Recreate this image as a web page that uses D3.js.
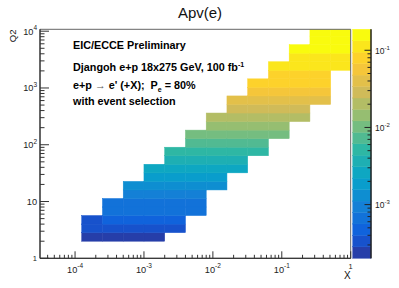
<!DOCTYPE html>
<html><head><meta charset="utf-8">
<script src="https://cdn.jsdelivr.net/npm/d3@7"></script>
<style>
html,body{margin:0;padding:0;background:#fff;}
svg{display:block;font-family:"Liberation Sans",Arial,Helvetica,sans-serif;}
</style></head><body>
<svg id="c" width="399" height="288"></svg>
<script>
// ---------------- data ----------------
const xBinEdges = [1.25e-4, 2.5e-4, 5e-4, 1e-3, 2e-3, 4e-3, 8e-3, 0.016, 0.032, 0.064, 0.128, 0.256, 0.512, 1.024];
const q2BinEdges = [2, 2.83, 4, 5.66, 8, 11.3, 16, 22.6, 32, 45.3, 64, 90.5, 128, 181, 256, 362, 512, 724,
                    1024, 1448, 2048, 2896, 4096, 5793, 8192, 11585];
// first filled Q2 bin of each x column
const firstQ2Bin = [0, 0, 0, 0, 1, 3, 6, 8, 10, 12, 14, 16, 20];
// Apv(e) per x column, from the first filled Q2 bin upward
const apv_x01 = [0.00024, 0.00033, 0.00036];
const apv_x02 = [0.00024, 0.00034, 0.00047, 0.00065, 0.00069];
const apv_x03 = [0.00024, 0.00034, 0.00048, 0.00066, 0.00070, 0.00094, 0.0013];
const apv_x04 = [0.00024, 0.00034, 0.00048, 0.00066, 0.00071, 0.00095, 0.0013, 0.00185, 0.0026];
const apv_x05 = [0.00034, 0.00048, 0.00066, 0.00071, 0.00095, 0.0013, 0.00186, 0.0026, 0.0037, 0.0052];
const apv_x06 = [0.00066, 0.00071, 0.00095, 0.0013, 0.00186, 0.0026, 0.0037, 0.0052, 0.0073, 0.0103];
const apv_x07 = [0.0013, 0.00186, 0.0026, 0.0037, 0.0052, 0.0073, 0.0103, 0.0145, 0.020];
const apv_x08 = [0.0026, 0.0037, 0.0052, 0.0073, 0.0103, 0.0145, 0.020, 0.0285, 0.040];
const apv_x09 = [0.0052, 0.0073, 0.0103, 0.0145, 0.020, 0.0285, 0.040, 0.057, 0.080];
const apv_x10 = [0.0103, 0.0145, 0.020, 0.0285, 0.040, 0.057, 0.080, 0.082, 0.112];
const apv_x11 = [0.020, 0.0285, 0.040, 0.057, 0.080, 0.082, 0.112, 0.114, 0.158];
const apv_x12 = [0.040, 0.057, 0.080, 0.082, 0.112, 0.114, 0.158, 0.160, 0.160];
const apv_x13 = [0.112, 0.114, 0.158, 0.160, 0.160];
const columns = [apv_x01, apv_x02, apv_x03, apv_x04, apv_x05, apv_x06, apv_x07, apv_x08, apv_x09, apv_x10, apv_x11, apv_x12, apv_x13];

const xTickValues = [1e-4, 1e-3, 1e-2, 1e-1, 1];
const xTickLabels = ["10^-4", "10^-3", "10^-2", "10^-1", "1"];
const yTickValues = [1, 10, 100, 1000, 10000];
const yTickLabels = ["1", "10", "10^2", "10^3", "10^4"];
const zTickValues = [1e-3, 1e-2, 1e-1];
const zTickLabels = ["10^-3", "10^-2", "10^-1"];

// kBird palette definition
const birdStops = [0.0000, 0.1250, 0.2500, 0.3750, 0.5000, 0.6250, 0.7500, 0.8750, 1.0000];
const birdR = [0.2082, 0.0592, 0.0780, 0.0232, 0.1802, 0.5301, 0.8186, 0.9956, 0.9764];
const birdG = [0.1664, 0.3599, 0.5041, 0.6419, 0.7178, 0.7492, 0.7328, 0.7862, 0.9832];
const birdB = [0.5293, 0.8684, 0.8385, 0.7914, 0.6425, 0.4662, 0.3499, 0.1968, 0.0539];

// ---------------- layout ----------------
const svg = d3.select("#c");
const fx0 = 40, fx1 = 350.7, fy0 = 29.3, fy1 = 258.3;
const px0 = 352.7, px1 = 371;
const x = d3.scaleLog().domain([3.1e-5, 1]).range([fx0, fx1]);
const y = d3.scaleLog().domain([1, 1.08e4]).range([fy1, fy0]);
const z = d3.scaleLog().domain([2.014e-4, 0.187]).range([fy1, fy0]);
const nCont = 20;
const bird = d3.scaleLinear().domain(birdStops)
  .range(birdStops.map((s, i) => d3.rgb(birdR[i] * 255, birdG[i] * 255, birdB[i] * 255)))
  .interpolate(d3.interpolateRgb);
const lz0 = Math.log10(z.domain()[0]), lz1 = Math.log10(z.domain()[1]);
function band(v) {
  const b = Math.floor((Math.log10(v) - lz0) / (lz1 - lz0) * nCont);
  return Math.max(0, Math.min(nCont - 1, b));
}
function bandColor(b) { return bird((b + 0.99) / nCont); }

// clip
svg.append("defs").append("clipPath").attr("id", "fr")
  .append("rect").attr("x", fx0).attr("y", fy0).attr("width", fx1 - fx0).attr("height", fy1 - fy0);

// cells
const cells = svg.append("g").attr("clip-path", "url(#fr)");
columns.forEach((vals, c) => {
  vals.forEach((v, k) => {
    const r = firstQ2Bin[c] + k;
    const col = bandColor(band(v));
    cells.append("rect")
      .attr("x", x(xBinEdges[c]))
      .attr("width", x(xBinEdges[c + 1]) - x(xBinEdges[c]))
      .attr("y", y(q2BinEdges[r + 1]))
      .attr("height", y(q2BinEdges[r]) - y(q2BinEdges[r + 1]))
      .attr("fill", col).attr("stroke", col).attr("stroke-width", 0.5);
  });
});

// palette
for (let b = 0; b < nCont; b++) {
  const lo = Math.pow(10, lz0 + b * (lz1 - lz0) / nCont);
  const hi = Math.pow(10, lz0 + (b + 1) * (lz1 - lz0) / nCont);
  const col = bandColor(b);
  svg.append("rect").attr("x", px0).attr("width", px1 - px0)
    .attr("y", z(hi)).attr("height", z(lo) - z(hi))
    .attr("fill", col).attr("stroke", col).attr("stroke-width", 0.4);
}

// frame top/right
svg.append("line").attr("x1", fx0).attr("x2", fx1).attr("y1", fy0).attr("y2", fy0)
  .attr("stroke", "#666").attr("stroke-width", 1);
svg.append("line").attr("x1", fx1).attr("x2", fx1).attr("y1", fy0).attr("y2", fy1)
  .attr("stroke", "#666").attr("stroke-width", 1);

function minorTicks(lo, hi, e0, e1) {
  const out = [];
  for (let e = e0; e <= e1; e++) for (let m = 2; m <= 9; m++) {
    const v = m * Math.pow(10, e);
    if (v >= lo && v <= hi) out.push(v);
  }
  return out;
}
function styleAxis(g, col) {
  g.selectAll("path.domain").attr("stroke", col).attr("stroke-width", 1);
  g.selectAll(".tick line").attr("stroke", col).attr("stroke-width", 1);
}

// x axis
const xMinor = minorTicks(x.domain()[0], 1, -5, -1);
const gxm = svg.append("g").attr("transform", `translate(0,${fy1})`)
  .call(d3.axisBottom(x).tickValues(xMinor).tickSize(-3.5).tickSizeOuter(0).tickFormat("").offset(0));
styleAxis(gxm, "#333");
const gx = svg.append("g").attr("transform", `translate(0,${fy1})`)
  .call(d3.axisBottom(x).tickValues(xTickValues).tickSize(-7).tickSizeOuter(0).tickFormat("").offset(0));
styleAxis(gx, "#333");

// y axis
const yMinor = minorTicks(1, y.domain()[1], 0, 3);
const gym = svg.append("g").attr("transform", `translate(${fx0},0)`)
  .call(d3.axisLeft(y).tickValues(yMinor).tickSize(-4.5).tickSizeOuter(0).tickFormat("").offset(0));
styleAxis(gym, "#333");
const gy = svg.append("g").attr("transform", `translate(${fx0},0)`)
  .call(d3.axisLeft(y).tickValues(yTickValues).tickSize(-9).tickSizeOuter(0).tickFormat("").offset(0));
styleAxis(gy, "#333");

// z axis
const zMinor = minorTicks(z.domain()[0], z.domain()[1], -4, -1);
const gzm = svg.append("g").attr("transform", `translate(${px1},0)`)
  .call(d3.axisRight(z).tickValues(zMinor).tickSize(-3.5).tickSizeOuter(0).tickFormat("").offset(0));
styleAxis(gzm, "#222");
const gz = svg.append("g").attr("transform", `translate(${px1},0)`)
  .call(d3.axisRight(z).tickValues(zTickValues).tickSize(-6.5).tickSizeOuter(0).tickFormat("").offset(0));
styleAxis(gz, "#222");

// tick label helper: "10^-4" -> 10 with superscript
function powLabel(t, lbl, size, supSize, supDy) {
  const parts = lbl.split("^");
  t.append("tspan").attr("font-size", size).text(parts[0]);
  if (parts.length > 1) t.append("tspan").attr("font-size", supSize).attr("dy", supDy).text(parts[1]);
}
const labColor = "#222";
xTickValues.forEach((v, i) => {
  const lbl = xTickLabels[i];
  const isOne = lbl.indexOf("^") < 0;
  const t = svg.append("text").attr("x", x(v)).attr("y", isOne ? 269 : 272.5)
    .attr("text-anchor", "middle").attr("fill", labColor);
  powLabel(t, lbl, isOne ? 7.5 : 9.2, 6.5, -4.2);
});
yTickValues.forEach((v, i) => {
  const lbl = yTickLabels[i];
  const isOne = lbl === "1";
  const t = svg.append("text").attr("x", 37).attr("y", y(v) + (isOne ? 2.7 : 3.4))
    .attr("text-anchor", "end").attr("fill", labColor);
  powLabel(t, lbl, isOne ? 7.5 : 9.2, 6.5, -4.2);
});
zTickValues.forEach((v, i) => {
  const t = svg.append("text").attr("x", 375).attr("y", z(v) + 3.5)
    .attr("fill", labColor);
  powLabel(t, zTickLabels[i], 8.5, 6, -3.8);
});

// titles
svg.append("text").attr("x", 200).attr("y", 17.5).attr("text-anchor", "middle")
  .attr("font-size", 15).attr("fill", "#111").text("Apv(e)");
svg.append("text").attr("x", 350.7).attr("y", 278.5).attr("text-anchor", "end")
  .attr("font-size", 10).attr("fill", "#111").text("X");
svg.append("text").attr("transform", "translate(15.5,29.5) rotate(-90)").attr("text-anchor", "end")
  .attr("font-size", 9.5).attr("fill", "#111").text("Q2");

// annotation block
const fs = 10.8;
const ann = svg.append("g").attr("font-weight", "bold").attr("font-size", fs).attr("fill", "#000");
ann.append("text").attr("x", 73).attr("y", 49).text("EIC/ECCE Preliminary");
const l2 = ann.append("text").attr("x", 73).attr("y", 71);
l2.append("tspan").text("Djangoh e+p 18x275 GeV, 100 fb");
l2.append("tspan").attr("font-size", 7).attr("dy", -4.5).text("-1");
const l3 = ann.append("text").attr("x", 73).attr("y", 89.4);
l3.append("tspan").text("e+p ");
l3.append("tspan").attr("font-weight", "normal").attr("fill", "#555").text("\u2192");
l3.append("tspan").text(" e' (+X);\u00a0\u00a0P");
l3.append("tspan").attr("font-size", 7).attr("dy", 2.5).text("e");
l3.append("tspan").attr("dy", -2.5).text(" = 80%");
ann.append("text").attr("x", 73).attr("y", 105).text("with event selection");
</script>
</body></html>
